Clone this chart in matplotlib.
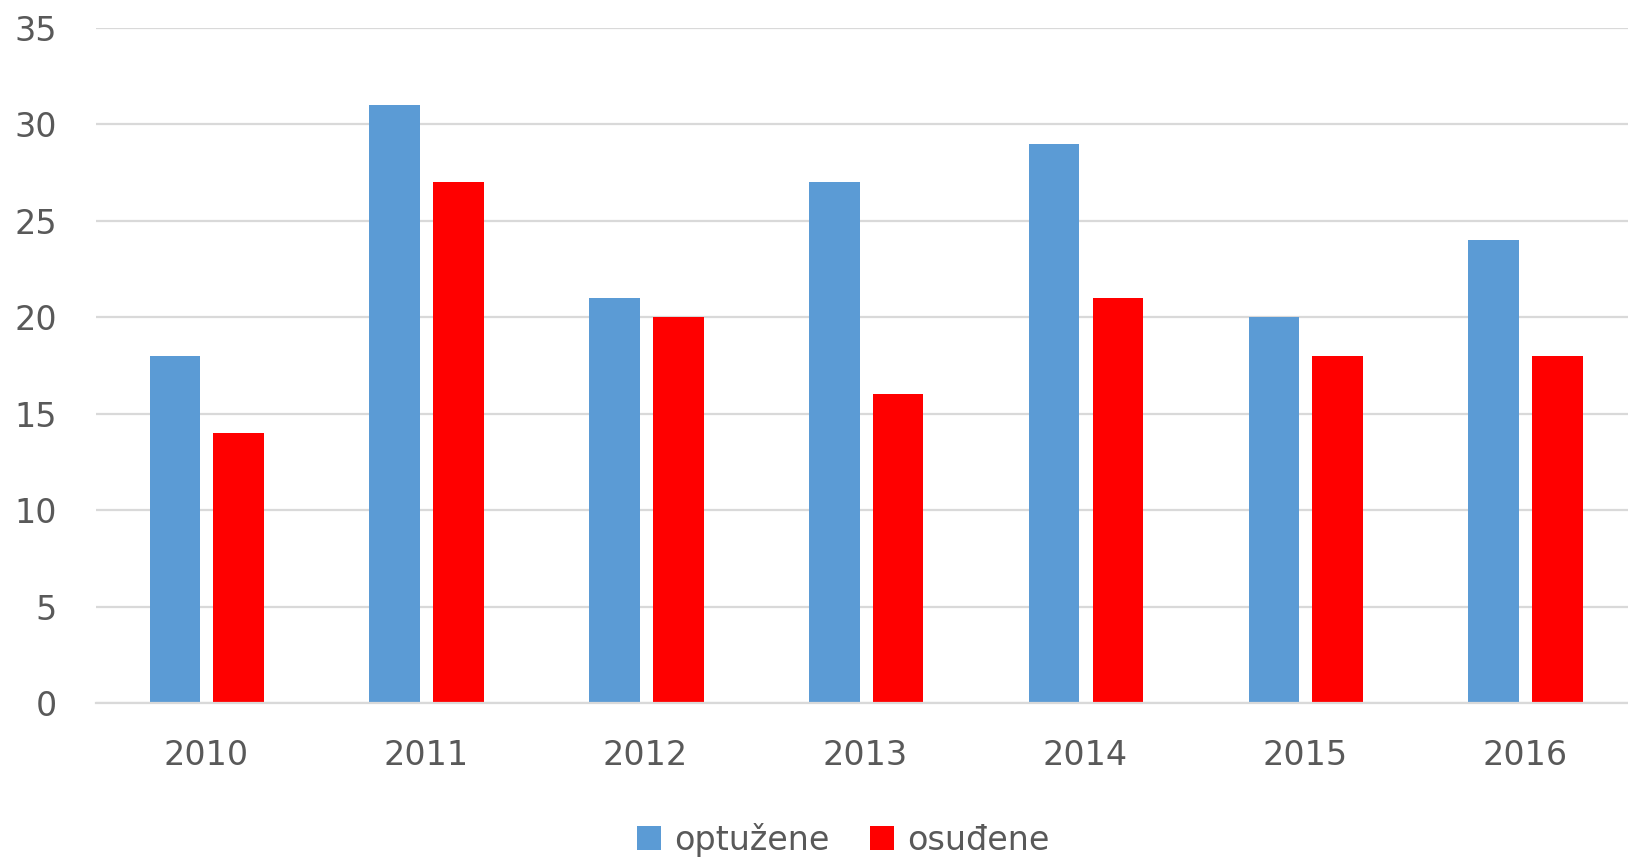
import matplotlib.pyplot as plt
import numpy as np

# data
years = ['2010', '2011', '2012', '2013', '2014', '2015', '2016']
optuzene = [18, 31, 21, 27, 29, 20, 24]
osudjene = [14, 27, 20, 16, 21, 18, 18]

blue = '#5B9BD5'
red = '#FF0000'
grey_text = '#595959'
grid_col = '#D9D9D9'

plt.rcParams['font.family'] = ['DejaVu Sans']

fig = plt.figure(figsize=(16.28, 8.57), dpi=100)
ax = fig.add_axes([96/1628, 154/857, 1532/1628, 675/857])

x = np.arange(len(years))
w = 0.23
ax.bar(x - 0.141, optuzene, w, color=blue, label='optužene', zorder=3)
ax.bar(x + 0.149, osudjene, w, color=red, label='osuđene', zorder=3)

ax.set_xlim(-0.5, 6.47)
ax.set_ylim(0, 35)
ax.set_yticks(range(0, 36, 5))
ax.set_xticks(x)
ax.set_xticklabels(years)

ax.yaxis.grid(True, color=grid_col, lw=1.6, zorder=0)
for s in ['top', 'right', 'left']:
    ax.spines[s].set_visible(False)
ax.spines['bottom'].set_color(grid_col)
ax.spines['bottom'].set_linewidth(1.6)
ax.spines['bottom'].set_zorder(4)
ax.tick_params(axis='both', length=0, labelsize=24, labelcolor=grey_text)
ax.tick_params(axis='y', pad=28)
ax.tick_params(axis='x', pad=26)

fig.legend(loc='center', bbox_to_anchor=(0.518, 0.02), ncol=2, frameon=False,
           fontsize=24, labelcolor=grey_text, handlelength=0.72, handleheight=0.72,
           handletextpad=0.4, columnspacing=1.2)

plt.savefig('out.png', dpi=100)
